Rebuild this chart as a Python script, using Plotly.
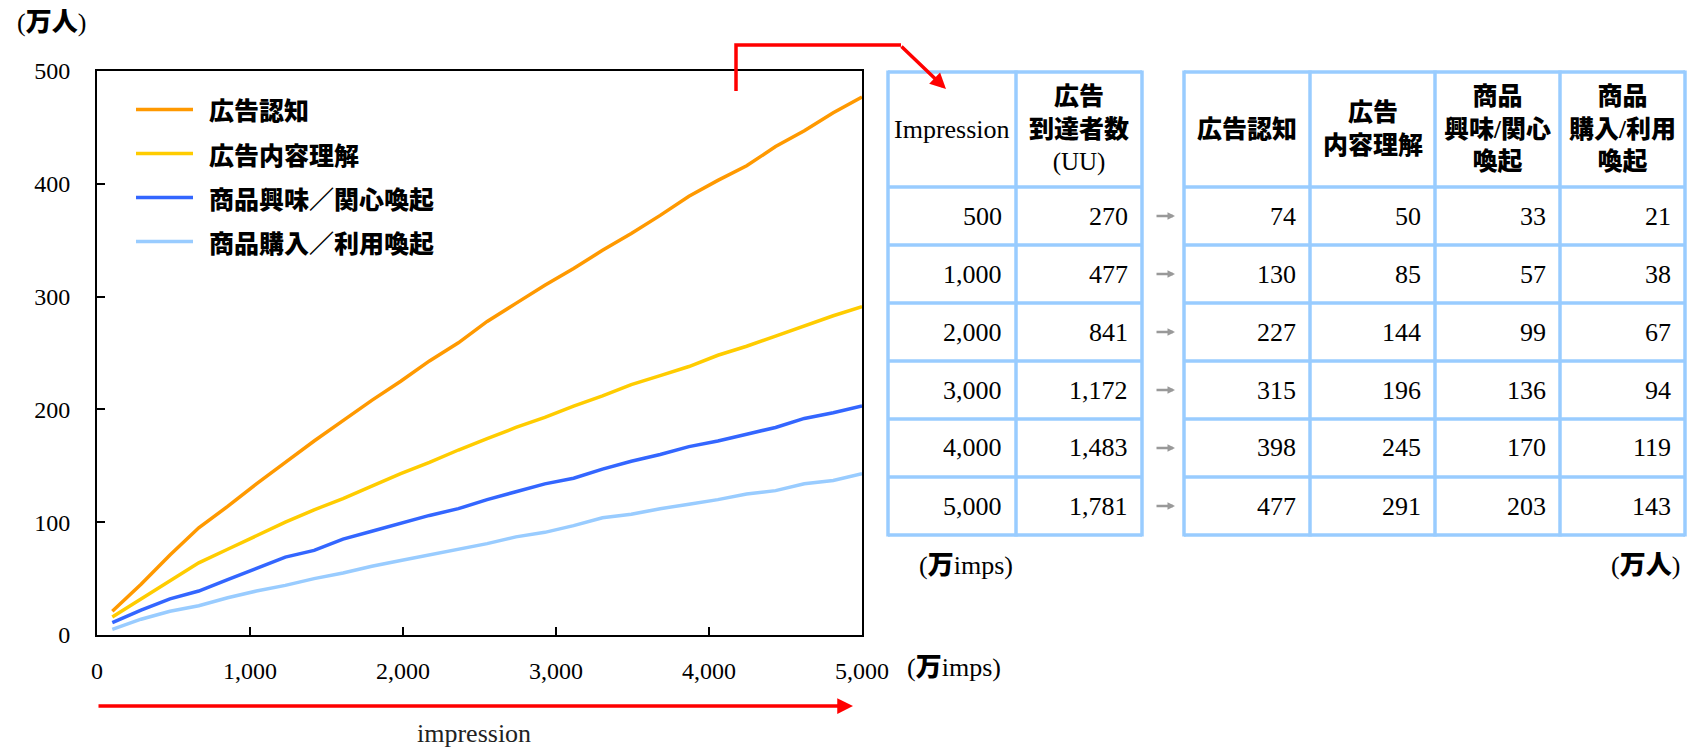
import plotly.graph_objects as go

W, H = 1700, 748

# ---- line chart data (万imps -> 万人) ----
impressions = [100, 288, 477, 665, 854, 1042, 1231, 1419, 1608, 1796, 1985, 2173, 2362, 2550,
               2738, 2927, 3115, 3304, 3492, 3681, 3869, 4058, 4246, 4435, 4623, 4812, 5000]
awareness = [21, 45, 71, 95, 114, 134, 153, 172, 190, 208, 225, 243, 259, 278,
             294, 310, 325, 341, 356, 372, 389, 403, 416, 433, 447, 463, 477]
understanding = [16, 32, 48, 64, 76, 88, 100, 111, 121, 132, 143, 153, 164, 174,
                 184, 193, 203, 212, 222, 230, 238, 248, 256, 265, 274, 283, 291]
interest = [11, 22, 32, 39, 49, 59, 69, 75, 85, 92, 99, 106, 112, 120,
            127, 134, 139, 147, 154, 160, 167, 172, 178, 184, 192, 197, 203]
purchase = [5, 14, 21, 26, 33, 39, 44, 50, 55, 61, 66, 71, 76, 81,
            87, 91, 97, 104, 107, 112, 116, 120, 125, 128, 134, 137, 143]

series_names = ["広告認知", "広告内容理解", "商品興味／関心喚起", "商品購入／利用喚起"]
series_values = [awareness, understanding, interest, purchase]
series_colors = ["#FF9900", "#FFCC00", "#3366FF", "#99CCFF"]

x_ticks = [0, 1000, 2000, 3000, 4000, 5000]
y_ticks = [0, 100, 200, 300, 400, 500]

# ---- summary tables ----
table_imps = [500, 1000, 2000, 3000, 4000, 5000]
table_reach = [270, 477, 841, 1172, 1483, 1781]
table_awareness = [74, 130, 227, 315, 398, 477]
table_understanding = [50, 85, 144, 196, 245, 291]
table_interest = [33, 57, 99, 136, 170, 203]
table_purchase = [21, 38, 67, 94, 119, 143]

HB = '<span style="font-weight:900">'  # heavy CJK run
HE = "</span>"

left_headers = ["Impression", f"{HB}広告{HE}<br>{HB}到達者数{HE}<br>(UU)"]
right_headers = [f"{HB}広告認知{HE}", f"{HB}広告{HE}<br>{HB}内容理解{HE}",
                 f"{HB}商品{HE}<br>{HB}興味/関心{HE}<br>{HB}喚起{HE}",
                 f"{HB}商品{HE}<br>{HB}購入/利用{HE}<br>{HB}喚起{HE}"]

SERIF = "Liberation Serif, Times New Roman, serif"
MIX = "Liberation Serif, Noto Sans CJK JP, sans-serif"
CJK = "Noto Sans CJK JP, sans-serif"
RED = "#FF0000"
GRID_BLUE = "#99CCFF"


def px(x):
    return x / W


def py(y):
    return 1 - y / H


fig = go.Figure()

for name, vals, col in zip(series_names, series_values, series_colors):
    fig.add_trace(go.Scatter(x=impressions, y=vals, mode="lines", name=name,
                             line=dict(color=col, width=3.5), showlegend=False))

shapes = []
annotations = []

# legend inside the plot area
leg_top, leg_gap = 109.5, 44
for i, (name, col) in enumerate(zip(series_names, series_colors)):
    yy = leg_top + i * leg_gap
    shapes.append(dict(type="line", xref="paper", yref="paper",
                       x0=px(136), x1=px(193), y0=py(yy), y1=py(yy),
                       line=dict(color=col, width=3.5)))
    annotations.append(dict(xref="paper", yref="paper", x=px(207), y=py(yy),
                            xanchor="left", yanchor="middle", showarrow=False,
                            text=f"{HB}{name}{HE}",
                            font=dict(family=CJK, size=25, color="#000")))

# unit labels
annotations.append(dict(xref="paper", yref="paper", x=px(15), y=py(22), xanchor="left",
                        yanchor="middle", showarrow=False, text=f"({HB}万人{HE})",
                        font=dict(family=MIX, size=26, color="#000")))
annotations.append(dict(xref="paper", yref="paper", x=px(905), y=py(667), xanchor="left",
                        yanchor="middle", showarrow=False, text=f"({HB}万{HE}imps)",
                        font=dict(family=MIX, size=26, color="#000")))
annotations.append(dict(xref="paper", yref="paper", x=px(474), y=py(733), xanchor="center",
                        yanchor="middle", showarrow=False, text="impression",
                        font=dict(family=SERIF, size=26, color="#222")))

# red arrow under the x axis
annotations.append(dict(xref="paper", yref="paper", x=px(853), y=py(706), text="",
                        showarrow=True, ax=-(853 - 97), ay=0, arrowhead=2, arrowsize=0.9,
                        arrowwidth=3.5, arrowcolor=RED, standoff=0))

# red bracket pointing to the table
shapes.append(dict(type="path", xref="paper", yref="paper",
                   path=f"M {px(736)},{py(91)} L {px(736)},{py(45)} L {px(901)},{py(45)}",
                   line=dict(color=RED, width=3.5)))
annotations.append(dict(xref="paper", yref="paper", x=px(946), y=py(89), text="",
                        showarrow=True, ax=-(946 - 900), ay=-(89 - 45), arrowhead=2,
                        arrowsize=0.9, arrowwidth=3.5, arrowcolor=RED, standoff=0))

# ---- tables ----
row_lines = [72, 187, 245, 303, 361, 419, 477, 535]
left_cols = [888, 1016, 1142]
right_cols = [1184, 1310, 1435, 1560, 1685]

for cols in (left_cols, right_cols):
    for xv in cols:
        shapes.append(dict(type="line", xref="paper", yref="paper",
                           x0=px(xv), x1=px(xv), y0=py(row_lines[0] - 1.5), y1=py(row_lines[-1] + 1.5),
                           line=dict(color=GRID_BLUE, width=3.5)))
    for yv in row_lines:
        shapes.append(dict(type="line", xref="paper", yref="paper",
                           x0=px(cols[0]), x1=px(cols[-1]), y0=py(yv), y1=py(yv),
                           line=dict(color=GRID_BLUE, width=3.5)))

head_mid = (row_lines[0] + row_lines[1]) / 2
for cols, heads in ((left_cols, left_headers), (right_cols, right_headers)):
    for j, htxt in enumerate(heads):
        cx = (cols[j] + cols[j + 1]) / 2
        size = 26 if htxt == "Impression" else 25
        annotations.append(dict(xref="paper", yref="paper", x=px(cx), y=py(head_mid),
                                xanchor="center", yanchor="middle", showarrow=False,
                                text=htxt, align="center",
                                font=dict(family=MIX, size=size, color="#000")))

left_data = [table_imps, table_reach]
right_data = [table_awareness, table_understanding, table_interest, table_purchase]
for r in range(len(table_imps)):
    cy = (row_lines[r + 1] + row_lines[r + 2]) / 2
    for cols, data in ((left_cols, left_data), (right_cols, right_data)):
        for j, colvals in enumerate(data):
            annotations.append(dict(xref="paper", yref="paper", x=px(cols[j + 1] - 12), y=py(cy),
                                    xanchor="right", yanchor="middle", showarrow=False,
                                    text=f"{colvals[r]:,}",
                                    font=dict(family=SERIF, size=26, color="#000")))
    # grey arrow linking the two tables
    annotations.append(dict(xref="paper", yref="paper", x=px(1175), y=py(cy), text="",
                            showarrow=True, ax=-20, ay=0, arrowhead=2, arrowsize=0.6,
                            arrowwidth=2.5, arrowcolor="#999999", standoff=0))

# table units
annotations.append(dict(xref="paper", yref="paper", x=px(917), y=py(565), xanchor="left",
                        yanchor="middle", showarrow=False, text=f"({HB}万{HE}imps)",
                        font=dict(family=MIX, size=26, color="#000")))
annotations.append(dict(xref="paper", yref="paper", x=px(1682), y=py(565), xanchor="right",
                        yanchor="middle", showarrow=False, text=f"({HB}万人{HE})",
                        font=dict(family=MIX, size=26, color="#000")))

axis_common = dict(showgrid=False, zeroline=False, showline=True, linecolor="#000",
                   linewidth=2, mirror=True, ticks="inside", ticklen=8, tickwidth=2,
                   tickcolor="#000", tickfont=dict(family=SERIF, size=24, color="#000"),
                   automargin=False, fixedrange=True)

fig.update_layout(
    width=W, height=H,
    margin=dict(l=0, r=0, t=0, b=0),
    paper_bgcolor="white", plot_bgcolor="white",
    xaxis=dict(domain=[px(97), px(862)], range=[0, 5000], tickvals=x_ticks,
               ticktext=[f"{v:,}" for v in x_ticks], ticklabelstandoff=13, **axis_common),
    yaxis=dict(domain=[py(635), py(71)], range=[0, 500], tickvals=y_ticks,
               ticktext=[str(v) for v in y_ticks], ticklabelstandoff=20, **axis_common),
    shapes=shapes,
    annotations=annotations,
    showlegend=False,
)

fig.write_html("out.html", post_script="document.body.style.margin='0';")
